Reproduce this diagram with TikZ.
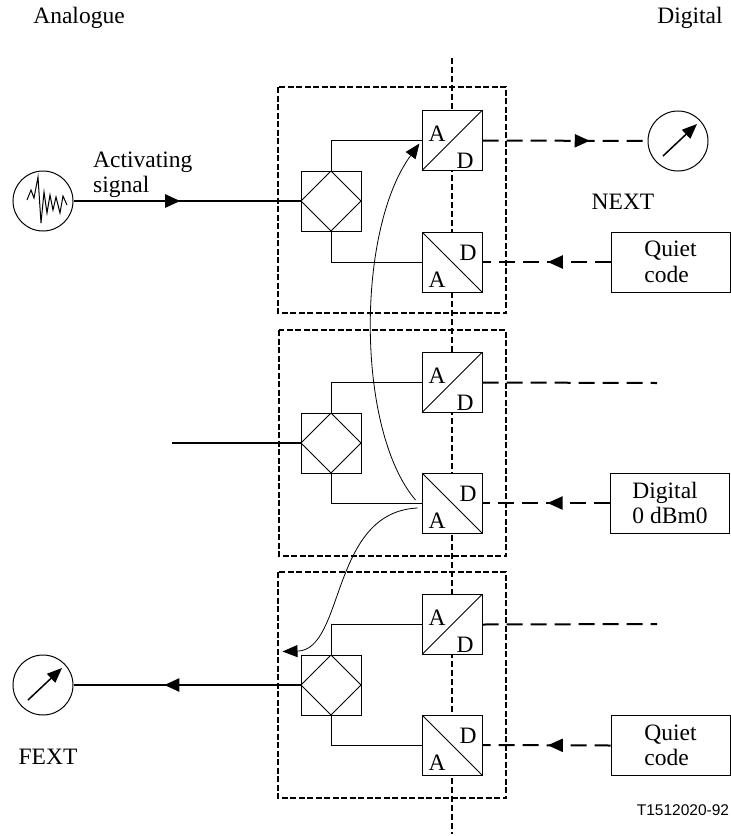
\documentclass[tikz,border=0pt]{standalone}
\usepackage{fontspec}
\setmainfont{Liberation Serif}
\newfontfamily\reffont{Liberation Sans}
\usetikzlibrary{arrows.meta,decorations.markings}

\tikzset{
  wire/.style={line width=1pt},
  sigline/.style={line width=2.5pt},
  digline/.style={line width=2pt, dash pattern=on 16pt off 8pt},
  unitbox/.style={line width=1.5pt, dash pattern=on 6pt off 2.5pt},
  midline/.style={line width=2pt, dash pattern=on 6pt off 3pt},
  midarrow/.style={postaction={decorate}, decoration={markings, mark=at position #1 with {\arrow{Triangle[length=15pt,width=13pt]}}}},
  conv/.style={draw, line width=1pt, fill=white, minimum size=60pt, inner sep=0pt},
  adconv/.style={conv, path picture={
      \draw[line width=1pt] (path picture bounding box.south west) -- (path picture bounding box.north east);
      \node at ([shift={(-15,-7)}]path picture bounding box.center) {A};
      \node at ([shift={(13,20)}]path picture bounding box.center) {D};}},
  daconv/.style={conv, path picture={
      \draw[line width=1pt] (path picture bounding box.north west) -- (path picture bounding box.south east);
      \node at ([shift={(16,-9)}]path picture bounding box.center) {D};
      \node at ([shift={(-15,18)}]path picture bounding box.center) {A};}},
  hybrid/.style={draw, line width=1pt, fill=white, minimum size=60pt, inner sep=0pt, path picture={
      \draw[line width=1pt] (path picture bounding box.north) -- (path picture bounding box.east)
        -- (path picture bounding box.south) -- (path picture bounding box.west) -- cycle;}},
  meter/.style={circle, draw, line width=1pt, minimum size=60pt, inner sep=0pt, path picture={
      \draw[line width=1.5pt, -{Triangle[length=15pt,width=12pt]}] ([shift={(-15,15)}]path picture bounding box.center)
        -- ([shift={(19,-17)}]path picture bounding box.center);}},
  noisesrc/.style={circle, draw, line width=1pt, minimum size=60pt, inner sep=0pt, path picture={
      \draw[line width=1pt, shift={(path picture bounding box.center)}] (-16,-1) -- (-12,-11) -- (-9,-3) -- (-5,-24)
        -- (-2,22) -- (1,-9) -- (4,12) -- (7,-6) -- (10,9) -- (13,-4) -- (17,12) -- (20,-5) -- (24,4);}},
  txtbox/.style={draw, line width=1pt, minimum width=119pt, minimum height=60pt, align=left, inner sep=0pt}
}

\begin{document}
\begin{tikzpicture}[x=1pt, y=-1pt, font=\fontsize{23.5}{25.5}\selectfont]
    \useasboundingbox (0,0) rectangle (731,836);

    % analogue / digital boundary
    \coordinate (top) at (452,58);
    \coordinate (bot) at (452,834);
    \draw[midline] (top) -- (bot);
    \node (lblana) at (79,18) {Analogue};
    \node (lbldig) at (690,18) {Digital};

    % the three units
    \draw[unitbox] (278,87) rectangle (506,313);
    \draw[unitbox] (279,330) rectangle (506,556);
    \draw[unitbox] (278,572) rectangle (506,798);

    \node[hybrid] (hyb1) at (331,201) {};
    \node[adconv] (ad1) at (452,140.5) {};
    \node[daconv] (da1) at (452,262) {};
    \node[hybrid] (hyb2) at (331,443) {};
    \node[adconv] (ad2) at (452,382.5) {};
    \node[daconv] (da2) at (452,503) {};
    \node[hybrid] (hyb3) at (331,685) {};
    \node[adconv] (ad3) at (452,624.5) {};
    \node[daconv] (da3) at (452,745) {};

    \draw[wire] (hyb1.north) |- (ad1.west);
    \draw[wire] (hyb1.south) |- (da1.west);
    \draw[wire] (hyb2.north) |- (ad2.west);
    \draw[wire] (hyb2.south) |- (da2.west);
    \draw[wire] (hyb3.north) |- (ad3.west);
    \draw[wire] (hyb3.south) |- (da3.west);

    % analogue side
    \node[noisesrc] (src) at (43,201) {};
    \node[align=left, anchor=west, inner sep=0pt] (lblact) at (93,175) {Activating\\signal};
    \draw[sigline, midarrow=0.47] (src.east) -- (hyb1.west);
    \coordinate (in2) at (172,443);
    \draw[sigline] (in2) -- (hyb2.west);
    \node[meter] (fext) at (43,685) {};
    \node (lblfext) at (48,757) {FEXT};
    \draw[sigline, midarrow=0.6] (hyb3.west) -- (fext.east);

    % digital side
    \node[meter] (next) at (678,141) {};
    \node (lblnext) at (623,202) {NEXT};
    \draw[digline, midarrow=0.65] (ad1.east) -- (next.west);
    \node[txtbox] (qc1) at (670.5,262) {Quiet\\code};
    \draw[digline, midarrow=0.49] (qc1.west) -- (da1.east);
    \coordinate (out2) at (657,383);
    \draw[digline] (ad2.east) -- (out2);
    \node[txtbox] (dig) at (670,503) {Digital\\0 dBm0};
    \draw[digline, midarrow=0.49] (dig.west) -- (da2.east);
    \coordinate (out3) at (657,624);
    \draw[digline] (ad3.east) -- (out3);
    \node[txtbox] (qc3) at (670.5,745.5) {Quiet\\code};
    \draw[digline, midarrow=0.49] (qc3.west) -- (da3.east);

    % crosstalk paths
    \draw[line width=0.8pt, -{Triangle[length=15pt,width=12pt]}] ([shift={(-6,-3)}]da2.west) .. controls (356,430) and (356,230) .. ([shift={(-2,3)}]ad1.west);
    \draw[line width=0.8pt, -{Triangle[length=15pt,width=12pt]}] ([shift={(-4,5)}]da2.west) .. controls (330,512) and (345,650) .. ([shift={(-18,-3)}]hyb3.north west);

    \node[font=\reffont\fontsize{15.5}{17}\selectfont] (lblref) at (683,810) {T1512020-92};
\end{tikzpicture}
\end{document}
